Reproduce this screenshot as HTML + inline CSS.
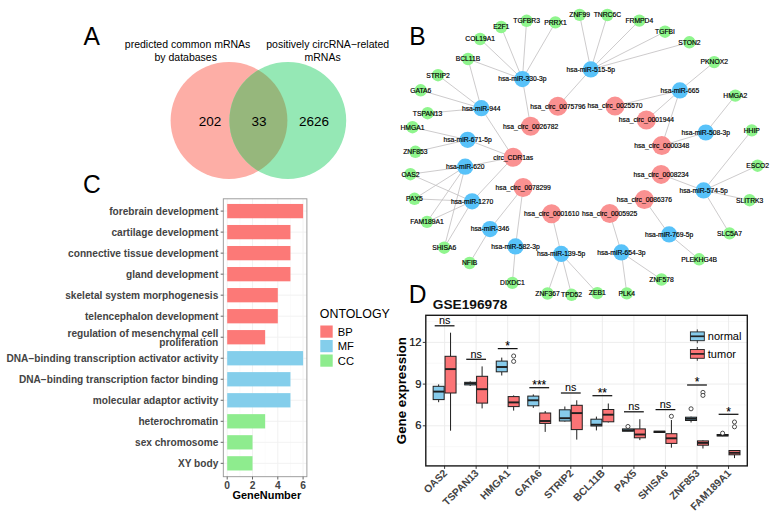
<!DOCTYPE html>
<html lang="en"><head><meta charset="utf-8"><title>Figure</title>
<style>html,body{margin:0;padding:0;background:#fff}body{width:773px;height:523px;overflow:hidden}svg{display:block}text{font-family:"Liberation Sans", Arial, sans-serif}</style>
</head><body>
<svg width="773" height="523" viewBox="0 0 773 523">
<rect width="773" height="523" fill="#fff"/>
<text transform="translate(83.6,45.3) scale(0.965,1)" font-size="25.5" fill="#000">A</text>
<text transform="translate(409.2,45.3) scale(0.965,1)" font-size="25.5" fill="#000">B</text>
<text transform="translate(82.9,192.5) scale(0.965,1)" font-size="25.5" fill="#000">C</text>
<text transform="translate(408.8,303.2) scale(0.965,1)" font-size="25.5" fill="#000">D</text>
<g id="venn">
<circle cx="229" cy="120.5" r="58.4" fill="#FDAEA6"/>
<circle cx="287.8" cy="120.5" r="58.4" fill="#95E8B5"/>
<clipPath id="cl"><circle cx="229" cy="120.5" r="58.4"/></clipPath>
<circle cx="287.8" cy="120.5" r="58.4" fill="#96B77C" clip-path="url(#cl)"/>
<g font-size="10.5" text-anchor="middle" fill="#000">
<text x="187.6" y="48.2">predicted common mRNAs</text>
<text x="185.7" y="60.7">by databases</text>
<text x="327.7" y="48.2">positively circRNA−related</text>
<text x="322.6" y="60.7">mRNAs</text>
</g>
<g font-size="13.5" text-anchor="middle" fill="#000">
<text x="210" y="125.5">202</text><text x="259" y="125.5">33</text><text x="314" y="125.5">2626</text>
</g></g>
<g id="go">
<rect x="223.3" y="198.8" width="83.59999999999997" height="277.9" fill="#fff"/>
<line x1="239.85" x2="239.85" y1="198.8" y2="476.7" stroke="#F6F6F6" stroke-width="0.5"/>
<line x1="265.15" x2="265.15" y1="198.8" y2="476.7" stroke="#F6F6F6" stroke-width="0.5"/>
<line x1="290.45" x2="290.45" y1="198.8" y2="476.7" stroke="#F6F6F6" stroke-width="0.5"/>
<line x1="227.20" x2="227.20" y1="198.8" y2="476.7" stroke="#F0F0F0" stroke-width="0.9"/>
<line x1="252.50" x2="252.50" y1="198.8" y2="476.7" stroke="#F0F0F0" stroke-width="0.9"/>
<line x1="277.80" x2="277.80" y1="198.8" y2="476.7" stroke="#F0F0F0" stroke-width="0.9"/>
<line x1="303.10" x2="303.10" y1="198.8" y2="476.7" stroke="#F0F0F0" stroke-width="0.9"/>
<line x1="223.3" x2="306.9" y1="211.10" y2="211.10" stroke="#F0F0F0" stroke-width="0.9"/>
<line x1="223.3" x2="306.9" y1="232.12" y2="232.12" stroke="#F0F0F0" stroke-width="0.9"/>
<line x1="223.3" x2="306.9" y1="253.14" y2="253.14" stroke="#F0F0F0" stroke-width="0.9"/>
<line x1="223.3" x2="306.9" y1="274.16" y2="274.16" stroke="#F0F0F0" stroke-width="0.9"/>
<line x1="223.3" x2="306.9" y1="295.18" y2="295.18" stroke="#F0F0F0" stroke-width="0.9"/>
<line x1="223.3" x2="306.9" y1="316.20" y2="316.20" stroke="#F0F0F0" stroke-width="0.9"/>
<line x1="223.3" x2="306.9" y1="337.22" y2="337.22" stroke="#F0F0F0" stroke-width="0.9"/>
<line x1="223.3" x2="306.9" y1="358.24" y2="358.24" stroke="#F0F0F0" stroke-width="0.9"/>
<line x1="223.3" x2="306.9" y1="379.26" y2="379.26" stroke="#F0F0F0" stroke-width="0.9"/>
<line x1="223.3" x2="306.9" y1="400.28" y2="400.28" stroke="#F0F0F0" stroke-width="0.9"/>
<line x1="223.3" x2="306.9" y1="421.30" y2="421.30" stroke="#F0F0F0" stroke-width="0.9"/>
<line x1="223.3" x2="306.9" y1="442.32" y2="442.32" stroke="#F0F0F0" stroke-width="0.9"/>
<line x1="223.3" x2="306.9" y1="463.34" y2="463.34" stroke="#F0F0F0" stroke-width="0.9"/>
<rect x="227.2" y="203.95" width="75.90" height="14.3" fill="#FC7977"/>
<rect x="227.2" y="224.97" width="63.25" height="14.3" fill="#FC7977"/>
<rect x="227.2" y="245.99" width="63.25" height="14.3" fill="#FC7977"/>
<rect x="227.2" y="267.01" width="63.25" height="14.3" fill="#FC7977"/>
<rect x="227.2" y="288.03" width="50.60" height="14.3" fill="#FC7977"/>
<rect x="227.2" y="309.05" width="50.60" height="14.3" fill="#FC7977"/>
<rect x="227.2" y="330.07" width="37.95" height="14.3" fill="#FC7977"/>
<rect x="227.2" y="351.09" width="75.90" height="14.3" fill="#84CEEB"/>
<rect x="227.2" y="372.11" width="63.25" height="14.3" fill="#84CEEB"/>
<rect x="227.2" y="393.13" width="63.25" height="14.3" fill="#84CEEB"/>
<rect x="227.2" y="414.15" width="37.95" height="14.3" fill="#8EEC8E"/>
<rect x="227.2" y="435.17" width="25.30" height="14.3" fill="#8EEC8E"/>
<rect x="227.2" y="456.19" width="25.30" height="14.3" fill="#8EEC8E"/>
<rect x="223.3" y="198.8" width="83.59999999999997" height="277.9" fill="none" stroke="#949494" stroke-width="0.9"/>
<g font-size="10.15" font-weight="bold" fill="#444" text-anchor="end">
<line x1="220.70000000000002" x2="223.3" y1="211.10" y2="211.10" stroke="#555" stroke-width="0.9"/>
<text x="218.3" y="214.60">forebrain development</text>
<line x1="220.70000000000002" x2="223.3" y1="232.12" y2="232.12" stroke="#555" stroke-width="0.9"/>
<text x="218.3" y="235.62">cartilage development</text>
<line x1="220.70000000000002" x2="223.3" y1="253.14" y2="253.14" stroke="#555" stroke-width="0.9"/>
<text x="218.3" y="256.64">connective tissue development</text>
<line x1="220.70000000000002" x2="223.3" y1="274.16" y2="274.16" stroke="#555" stroke-width="0.9"/>
<text x="218.3" y="277.66">gland development</text>
<line x1="220.70000000000002" x2="223.3" y1="295.18" y2="295.18" stroke="#555" stroke-width="0.9"/>
<text x="218.3" y="298.68">skeletal system morphogenesis</text>
<line x1="220.70000000000002" x2="223.3" y1="316.20" y2="316.20" stroke="#555" stroke-width="0.9"/>
<text x="218.3" y="319.70">telencephalon development</text>
<line x1="220.70000000000002" x2="223.3" y1="337.22" y2="337.22" stroke="#555" stroke-width="0.9"/>
<text x="218.3" y="336.72">regulation of mesenchymal cell</text>
<text x="218.3" y="346.12">proliferation</text>
<line x1="220.70000000000002" x2="223.3" y1="358.24" y2="358.24" stroke="#555" stroke-width="0.9"/>
<text x="218.3" y="361.74">DNA−binding transcription activator activity</text>
<line x1="220.70000000000002" x2="223.3" y1="379.26" y2="379.26" stroke="#555" stroke-width="0.9"/>
<text x="218.3" y="382.76">DNA−binding transcription factor binding</text>
<line x1="220.70000000000002" x2="223.3" y1="400.28" y2="400.28" stroke="#555" stroke-width="0.9"/>
<text x="218.3" y="403.78">molecular adaptor activity</text>
<line x1="220.70000000000002" x2="223.3" y1="421.30" y2="421.30" stroke="#555" stroke-width="0.9"/>
<text x="218.3" y="424.80">heterochromatin</text>
<line x1="220.70000000000002" x2="223.3" y1="442.32" y2="442.32" stroke="#555" stroke-width="0.9"/>
<text x="218.3" y="445.82">sex chromosome</text>
<line x1="220.70000000000002" x2="223.3" y1="463.34" y2="463.34" stroke="#555" stroke-width="0.9"/>
<text x="218.3" y="466.84">XY body</text>
</g>
<g font-size="10.3" font-weight="bold" fill="#444" text-anchor="middle">
<line x1="227.20" x2="227.20" y1="476.7" y2="479.5" stroke="#555" stroke-width="0.9"/>
<text x="227.20" y="488.6">0</text>
<line x1="252.50" x2="252.50" y1="476.7" y2="479.5" stroke="#555" stroke-width="0.9"/>
<text x="252.50" y="488.6">2</text>
<line x1="277.80" x2="277.80" y1="476.7" y2="479.5" stroke="#555" stroke-width="0.9"/>
<text x="277.80" y="488.6">4</text>
<line x1="303.10" x2="303.10" y1="476.7" y2="479.5" stroke="#555" stroke-width="0.9"/>
<text x="303.10" y="488.6">6</text>
</g>
<text x="266.8" y="498.8" font-size="10.95" font-weight="bold" fill="#000" text-anchor="middle">GeneNumber</text>
<text x="319.8" y="317.9" font-size="12.4" fill="#000">ONTOLOGY</text>
<rect x="320.3" y="325.50" width="12.4" height="12.2" fill="#FC7977"/>
<text x="337.8" y="335.60" font-size="11.2" fill="#000">BP</text>
<rect x="320.3" y="340.00" width="12.4" height="12.2" fill="#84CEEB"/>
<text x="337.8" y="350.10" font-size="11.2" fill="#000">MF</text>
<rect x="320.3" y="354.50" width="12.4" height="12.2" fill="#8EEC8E"/>
<text x="337.8" y="364.60" font-size="11.2" fill="#000">CC</text>
</g>
<g id="net">
<g stroke="#C4C2C3" stroke-width="0.85">
<line x1="522.4" y1="79.1" x2="501.2" y2="27.0"/>
<line x1="522.4" y1="79.1" x2="526.6" y2="20.8"/>
<line x1="522.4" y1="79.1" x2="555.4" y2="22.4"/>
<line x1="522.4" y1="79.1" x2="480.1" y2="39"/>
<line x1="522.4" y1="79.1" x2="468.0" y2="59.0"/>
<line x1="522.4" y1="79.1" x2="530.6" y2="126.2"/>
<line x1="481.3" y1="108.2" x2="468.0" y2="59.0"/>
<line x1="481.3" y1="108.2" x2="438" y2="75.2"/>
<line x1="481.3" y1="108.2" x2="420.7" y2="90.3"/>
<line x1="481.3" y1="108.2" x2="427.6" y2="113.2"/>
<line x1="481.3" y1="108.2" x2="513.2" y2="157.3"/>
<line x1="590.8" y1="69.4" x2="579.6" y2="14.9"/>
<line x1="590.8" y1="69.4" x2="607.4" y2="15.0"/>
<line x1="590.8" y1="69.4" x2="639.3" y2="20.6"/>
<line x1="590.8" y1="69.4" x2="665" y2="31.7"/>
<line x1="590.8" y1="69.4" x2="689.4" y2="42.3"/>
<line x1="590.8" y1="69.4" x2="557.9" y2="106.2"/>
<line x1="679.9" y1="90.4" x2="714.2" y2="62.1"/>
<line x1="679.9" y1="90.4" x2="615" y2="106.1"/>
<line x1="679.9" y1="90.4" x2="646.4" y2="120.0"/>
<line x1="679.9" y1="90.4" x2="661.8" y2="145.6"/>
<line x1="705.8" y1="132.5" x2="735.3" y2="95.6"/>
<line x1="705.8" y1="132.5" x2="661.8" y2="145.6"/>
<line x1="467.6" y1="139.8" x2="412.5" y2="127.2"/>
<line x1="467.6" y1="139.8" x2="415.4" y2="151.8"/>
<line x1="467.6" y1="139.8" x2="513.2" y2="157.3"/>
<line x1="465.2" y1="166.7" x2="410.4" y2="174.2"/>
<line x1="465.2" y1="166.7" x2="414.5" y2="198.8"/>
<line x1="465.2" y1="166.7" x2="427.0" y2="221.9"/>
<line x1="465.2" y1="166.7" x2="444.2" y2="247.7"/>
<line x1="465.2" y1="166.7" x2="513.2" y2="157.3"/>
<line x1="472.1" y1="201.3" x2="410.4" y2="174.2"/>
<line x1="472.1" y1="201.3" x2="414.5" y2="198.8"/>
<line x1="472.1" y1="201.3" x2="427.0" y2="221.9"/>
<line x1="472.1" y1="201.3" x2="444.2" y2="247.7"/>
<line x1="472.1" y1="201.3" x2="513.2" y2="157.3"/>
<line x1="490" y1="229.1" x2="469.6" y2="263.0"/>
<line x1="490" y1="229.1" x2="523.1" y2="187.5"/>
<line x1="515.5" y1="246.4" x2="512.4" y2="282.9"/>
<line x1="515.5" y1="246.4" x2="523.1" y2="187.5"/>
<line x1="561.2" y1="253.9" x2="547.5" y2="293.5"/>
<line x1="561.2" y1="253.9" x2="571.6" y2="294.8"/>
<line x1="561.2" y1="253.9" x2="597.3" y2="293.1"/>
<line x1="561.2" y1="253.9" x2="551.6" y2="213.7"/>
<line x1="621.4" y1="252.4" x2="626.8" y2="293.4"/>
<line x1="621.4" y1="252.4" x2="661.5" y2="279.5"/>
<line x1="621.4" y1="252.4" x2="609.7" y2="213.5"/>
<line x1="669.1" y1="234.4" x2="699.1" y2="259.3"/>
<line x1="669.1" y1="234.4" x2="644.4" y2="199.6"/>
<line x1="703.6" y1="190.4" x2="751.8" y2="130.4"/>
<line x1="703.6" y1="190.4" x2="757.6" y2="165.7"/>
<line x1="703.6" y1="190.4" x2="749.6" y2="200.2"/>
<line x1="703.6" y1="190.4" x2="729.5" y2="233.4"/>
<line x1="703.6" y1="190.4" x2="661.1" y2="174.4"/>
</g>
<circle cx="501.2" cy="27.0" r="6.2" fill="#8FF58D"/>
<circle cx="526.6" cy="20.8" r="6.2" fill="#8FF58D"/>
<circle cx="555.4" cy="22.4" r="6.2" fill="#8FF58D"/>
<circle cx="579.6" cy="14.9" r="6.2" fill="#8FF58D"/>
<circle cx="480.1" cy="39" r="6.2" fill="#8FF58D"/>
<circle cx="468.0" cy="59.0" r="6.2" fill="#8FF58D"/>
<circle cx="438" cy="75.2" r="6.2" fill="#8FF58D"/>
<circle cx="420.7" cy="90.3" r="6.2" fill="#8FF58D"/>
<circle cx="427.6" cy="113.2" r="6.2" fill="#8FF58D"/>
<circle cx="412.5" cy="127.2" r="6.2" fill="#8FF58D"/>
<circle cx="415.4" cy="151.8" r="6.2" fill="#8FF58D"/>
<circle cx="410.4" cy="174.2" r="6.2" fill="#8FF58D"/>
<circle cx="414.5" cy="198.8" r="6.2" fill="#8FF58D"/>
<circle cx="427.0" cy="221.9" r="6.2" fill="#8FF58D"/>
<circle cx="444.2" cy="247.7" r="6.2" fill="#8FF58D"/>
<circle cx="469.6" cy="263.0" r="6.2" fill="#8FF58D"/>
<circle cx="512.4" cy="282.9" r="6.2" fill="#8FF58D"/>
<circle cx="547.5" cy="293.5" r="6.2" fill="#8FF58D"/>
<circle cx="571.6" cy="294.8" r="6.2" fill="#8FF58D"/>
<circle cx="597.3" cy="293.1" r="6.2" fill="#8FF58D"/>
<circle cx="626.8" cy="293.4" r="6.2" fill="#8FF58D"/>
<circle cx="661.5" cy="279.5" r="6.2" fill="#8FF58D"/>
<circle cx="699.1" cy="259.3" r="6.2" fill="#8FF58D"/>
<circle cx="729.5" cy="233.4" r="6.2" fill="#8FF58D"/>
<circle cx="749.6" cy="200.2" r="6.2" fill="#8FF58D"/>
<circle cx="757.6" cy="165.7" r="6.2" fill="#8FF58D"/>
<circle cx="751.8" cy="130.4" r="6.2" fill="#8FF58D"/>
<circle cx="735.3" cy="95.6" r="6.2" fill="#8FF58D"/>
<circle cx="714.2" cy="62.1" r="6.2" fill="#8FF58D"/>
<circle cx="689.4" cy="42.3" r="6.2" fill="#8FF58D"/>
<circle cx="665" cy="31.7" r="6.2" fill="#8FF58D"/>
<circle cx="639.3" cy="20.6" r="6.2" fill="#8FF58D"/>
<circle cx="607.4" cy="15.0" r="6.2" fill="#8FF58D"/>
<circle cx="522.4" cy="79.1" r="8.1" fill="#58C2F9"/>
<circle cx="481.3" cy="108.2" r="8.1" fill="#58C2F9"/>
<circle cx="590.8" cy="69.4" r="8.1" fill="#58C2F9"/>
<circle cx="679.9" cy="90.4" r="8.1" fill="#58C2F9"/>
<circle cx="705.8" cy="132.5" r="8.1" fill="#58C2F9"/>
<circle cx="467.6" cy="139.8" r="8.1" fill="#58C2F9"/>
<circle cx="465.2" cy="166.7" r="8.1" fill="#58C2F9"/>
<circle cx="472.1" cy="201.3" r="8.1" fill="#58C2F9"/>
<circle cx="490" cy="229.1" r="8.1" fill="#58C2F9"/>
<circle cx="515.5" cy="246.4" r="8.1" fill="#58C2F9"/>
<circle cx="561.2" cy="253.9" r="8.1" fill="#58C2F9"/>
<circle cx="621.4" cy="252.4" r="8.1" fill="#58C2F9"/>
<circle cx="669.1" cy="234.4" r="8.1" fill="#58C2F9"/>
<circle cx="703.6" cy="190.4" r="8.1" fill="#58C2F9"/>
<circle cx="557.9" cy="106.2" r="9.5" fill="#FA9191"/>
<circle cx="615" cy="106.1" r="9.5" fill="#FA9191"/>
<circle cx="530.6" cy="126.2" r="9.5" fill="#FA9191"/>
<circle cx="646.4" cy="120.0" r="9.5" fill="#FA9191"/>
<circle cx="661.8" cy="145.6" r="9.5" fill="#FA9191"/>
<circle cx="513.2" cy="157.3" r="9.5" fill="#FA9191"/>
<circle cx="661.1" cy="174.4" r="9.5" fill="#FA9191"/>
<circle cx="523.1" cy="187.5" r="9.5" fill="#FA9191"/>
<circle cx="644.4" cy="199.6" r="9.5" fill="#FA9191"/>
<circle cx="551.6" cy="213.7" r="9.5" fill="#FA9191"/>
<circle cx="609.7" cy="213.5" r="9.5" fill="#FA9191"/>
<g font-size="6.75" text-anchor="middle" fill="#000" stroke="#000" stroke-width="0.18">
<text x="501.2" y="29.3">E2F1</text>
<text x="526.6" y="23.1">TGFBR3</text>
<text x="555.4" y="24.7">PRRX1</text>
<text x="579.6" y="17.2">ZNF99</text>
<text x="480.1" y="41.3">COL19A1</text>
<text x="468.0" y="61.3">BCL11B</text>
<text x="438" y="77.5">STRIP2</text>
<text x="420.7" y="92.6">GATA6</text>
<text x="427.6" y="115.5">TSPAN13</text>
<text x="412.5" y="129.5">HMGA1</text>
<text x="415.4" y="154.1">ZNF853</text>
<text x="410.4" y="176.5">OAS2</text>
<text x="414.5" y="201.1">PAX5</text>
<text x="427.0" y="224.2">FAM189A1</text>
<text x="444.2" y="250.0">SHISA6</text>
<text x="469.6" y="265.3">NFIB</text>
<text x="512.4" y="285.2">DIXDC1</text>
<text x="547.5" y="295.8">ZNF367</text>
<text x="571.6" y="297.1">TPD52</text>
<text x="597.3" y="295.4">ZEB1</text>
<text x="626.8" y="295.7">PLK4</text>
<text x="661.5" y="281.8">ZNF578</text>
<text x="699.1" y="261.6">PLEKHG4B</text>
<text x="729.5" y="235.7">SLC5A7</text>
<text x="749.6" y="202.5">SLITRK3</text>
<text x="757.6" y="168.0">ESCO2</text>
<text x="751.8" y="132.7">HHIP</text>
<text x="735.3" y="97.9">HMGA2</text>
<text x="714.2" y="64.4">PKNOX2</text>
<text x="689.4" y="44.6">STON2</text>
<text x="665" y="34.0">TGFBI</text>
<text x="639.3" y="22.9">FRMPD4</text>
<text x="607.4" y="17.3">TNRC6C</text>
<text x="522.4" y="81.4">hsa-miR-330-3p</text>
<text x="481.3" y="110.5">hsa-miR-944</text>
<text x="590.8" y="71.7">hsa-miR-515-5p</text>
<text x="679.9" y="92.7">hsa-miR-665</text>
<text x="705.8" y="134.8">hsa-miR-508-3p</text>
<text x="467.6" y="142.1">hsa-miR-671-5p</text>
<text x="465.2" y="169.0">hsa-miR-620</text>
<text x="472.1" y="203.6">hsa-miR-1270</text>
<text x="490" y="231.4">hsa-miR-346</text>
<text x="515.5" y="248.7">hsa-miR-582-3p</text>
<text x="561.2" y="256.2">hsa-miR-139-5p</text>
<text x="621.4" y="254.7">hsa-miR-654-3p</text>
<text x="669.1" y="236.7">hsa-miR-769-5p</text>
<text x="703.6" y="192.7">hsa-miR-574-5p</text>
<text x="557.9" y="108.5">hsa_circ_0075796</text>
<text x="615" y="108.4">hsa_circ_0025570</text>
<text x="530.6" y="128.5">hsa_circ_0026782</text>
<text x="646.4" y="122.3">hsa_circ_0001944</text>
<text x="661.8" y="147.9">hsa_circ_0000348</text>
<text x="513.2" y="159.6">circ_CDR1as</text>
<text x="661.1" y="176.7">hsa_circ_0008234</text>
<text x="523.1" y="189.8">hsa_circ_0078299</text>
<text x="644.4" y="201.9">hsa_circ_0086376</text>
<text x="551.6" y="216.0">hsa_circ_0001610</text>
<text x="609.7" y="215.8">hsa_circ_0005925</text>
</g></g>
<g id="box">
<rect x="425.8" y="315.3" width="321.49999999999994" height="150.59999999999997" fill="#fff"/>
<line x1="425.8" x2="747.3" y1="446.65" y2="446.65" stroke="#F4F4F4" stroke-width="0.6"/>
<line x1="425.8" x2="747.3" y1="404.95" y2="404.95" stroke="#F4F4F4" stroke-width="0.6"/>
<line x1="425.8" x2="747.3" y1="363.25" y2="363.25" stroke="#F4F4F4" stroke-width="0.6"/>
<line x1="425.8" x2="747.3" y1="321.55" y2="321.55" stroke="#F4F4F4" stroke-width="0.6"/>
<line x1="425.8" x2="747.3" y1="425.80" y2="425.80" stroke="#EBEBEB" stroke-width="0.9"/>
<line x1="425.8" x2="747.3" y1="384.10" y2="384.10" stroke="#EBEBEB" stroke-width="0.9"/>
<line x1="425.8" x2="747.3" y1="342.40" y2="342.40" stroke="#EBEBEB" stroke-width="0.9"/>
<line x1="444.60" x2="444.60" y1="315.3" y2="465.9" stroke="#EBEBEB" stroke-width="0.9"/>
<line x1="476.15" x2="476.15" y1="315.3" y2="465.9" stroke="#EBEBEB" stroke-width="0.9"/>
<line x1="507.70" x2="507.70" y1="315.3" y2="465.9" stroke="#EBEBEB" stroke-width="0.9"/>
<line x1="539.25" x2="539.25" y1="315.3" y2="465.9" stroke="#EBEBEB" stroke-width="0.9"/>
<line x1="570.80" x2="570.80" y1="315.3" y2="465.9" stroke="#EBEBEB" stroke-width="0.9"/>
<line x1="602.35" x2="602.35" y1="315.3" y2="465.9" stroke="#EBEBEB" stroke-width="0.9"/>
<line x1="633.90" x2="633.90" y1="315.3" y2="465.9" stroke="#EBEBEB" stroke-width="0.9"/>
<line x1="665.45" x2="665.45" y1="315.3" y2="465.9" stroke="#EBEBEB" stroke-width="0.9"/>
<line x1="697.00" x2="697.00" y1="315.3" y2="465.9" stroke="#EBEBEB" stroke-width="0.9"/>
<line x1="728.55" x2="728.55" y1="315.3" y2="465.9" stroke="#EBEBEB" stroke-width="0.9"/>
<line x1="438.65" x2="438.65" y1="384.4" y2="386.3" stroke="#1E1E1E" stroke-width="1"/>
<line x1="438.65" x2="438.65" y1="399.6" y2="402.2" stroke="#1E1E1E" stroke-width="1"/>
<rect x="433.15" y="386.3" width="11.0" height="13.30" fill="#86CBEB" stroke="#1E1E1E" stroke-width="1"/>
<line x1="433.15" x2="444.15" y1="391.6" y2="391.6" stroke="#1E1E1E" stroke-width="1.9"/>
<line x1="450.55" x2="450.55" y1="332.7" y2="356.3" stroke="#1E1E1E" stroke-width="1"/>
<line x1="450.55" x2="450.55" y1="393" y2="430.7" stroke="#1E1E1E" stroke-width="1"/>
<rect x="445.05" y="356.3" width="11.0" height="36.70" fill="#FB7476" stroke="#1E1E1E" stroke-width="1"/>
<line x1="445.05" x2="456.05" y1="369.1" y2="369.1" stroke="#1E1E1E" stroke-width="1.9"/>
<line x1="434.70" x2="454.50" y1="325.8" y2="325.8" stroke="#111" stroke-width="1.25"/>
<text x="444.60" y="324.00" font-size="10.8" text-anchor="middle" fill="#000">ns</text>
<line x1="470.20" x2="470.20" y1="381.4" y2="382.3" stroke="#1E1E1E" stroke-width="1"/>
<line x1="470.20" x2="470.20" y1="384.9" y2="386" stroke="#1E1E1E" stroke-width="1"/>
<rect x="464.70" y="382.3" width="11.0" height="2.60" fill="#86CBEB" stroke="#1E1E1E" stroke-width="1"/>
<line x1="464.70" x2="475.70" y1="383.4" y2="383.4" stroke="#1E1E1E" stroke-width="1.9"/>
<line x1="482.10" x2="482.10" y1="366.4" y2="376.3" stroke="#1E1E1E" stroke-width="1"/>
<line x1="482.10" x2="482.10" y1="403.1" y2="408.4" stroke="#1E1E1E" stroke-width="1"/>
<rect x="476.60" y="376.3" width="11.0" height="26.80" fill="#FB7476" stroke="#1E1E1E" stroke-width="1"/>
<line x1="476.60" x2="487.60" y1="389.2" y2="389.2" stroke="#1E1E1E" stroke-width="1.9"/>
<line x1="466.25" x2="486.05" y1="359.3" y2="359.3" stroke="#111" stroke-width="1.25"/>
<text x="476.15" y="357.50" font-size="10.8" text-anchor="middle" fill="#000">ns</text>
<line x1="501.75" x2="501.75" y1="357.6" y2="361.1" stroke="#1E1E1E" stroke-width="1"/>
<line x1="501.75" x2="501.75" y1="371.8" y2="375.5" stroke="#1E1E1E" stroke-width="1"/>
<rect x="496.25" y="361.1" width="11.0" height="10.70" fill="#86CBEB" stroke="#1E1E1E" stroke-width="1"/>
<line x1="496.25" x2="507.25" y1="367" y2="367" stroke="#1E1E1E" stroke-width="1.9"/>
<line x1="513.65" x2="513.65" y1="395.4" y2="396.6" stroke="#1E1E1E" stroke-width="1"/>
<line x1="513.65" x2="513.65" y1="406.6" y2="410.6" stroke="#1E1E1E" stroke-width="1"/>
<rect x="508.15" y="396.6" width="11.0" height="10.00" fill="#FB7476" stroke="#1E1E1E" stroke-width="1"/>
<line x1="508.15" x2="519.15" y1="402.4" y2="402.4" stroke="#1E1E1E" stroke-width="1.9"/>
<circle cx="513.65" cy="356" r="2.05" fill="#fff" stroke="#222" stroke-width="0.8"/>
<circle cx="513.65" cy="361.4" r="2.05" fill="#fff" stroke="#222" stroke-width="0.8"/>
<line x1="497.80" x2="517.60" y1="348.6" y2="348.6" stroke="#111" stroke-width="1.25"/>
<text x="507.70" y="349.90" font-size="12" text-anchor="middle" fill="#000" stroke="#000" stroke-width="0.1">*</text>
<line x1="533.30" x2="533.30" y1="394.4" y2="396.1" stroke="#1E1E1E" stroke-width="1"/>
<line x1="533.30" x2="533.30" y1="405.8" y2="407.9" stroke="#1E1E1E" stroke-width="1"/>
<rect x="527.80" y="396.1" width="11.0" height="9.70" fill="#86CBEB" stroke="#1E1E1E" stroke-width="1"/>
<line x1="527.80" x2="538.80" y1="400.3" y2="400.3" stroke="#1E1E1E" stroke-width="1.9"/>
<line x1="545.20" x2="545.20" y1="411" y2="413" stroke="#1E1E1E" stroke-width="1"/>
<line x1="545.20" x2="545.20" y1="423.4" y2="431.9" stroke="#1E1E1E" stroke-width="1"/>
<rect x="539.70" y="413" width="11.0" height="10.40" fill="#FB7476" stroke="#1E1E1E" stroke-width="1"/>
<line x1="539.70" x2="550.70" y1="421" y2="421" stroke="#1E1E1E" stroke-width="1.9"/>
<line x1="529.35" x2="549.15" y1="387.7" y2="387.7" stroke="#111" stroke-width="1.25"/>
<text x="539.25" y="389.00" font-size="12" text-anchor="middle" fill="#000" stroke="#000" stroke-width="0.1">***</text>
<line x1="564.85" x2="564.85" y1="406.5" y2="409.8" stroke="#1E1E1E" stroke-width="1"/>
<line x1="564.85" x2="564.85" y1="421" y2="421.6" stroke="#1E1E1E" stroke-width="1"/>
<rect x="559.35" y="409.8" width="11.0" height="11.20" fill="#86CBEB" stroke="#1E1E1E" stroke-width="1"/>
<line x1="559.35" x2="570.35" y1="418.2" y2="418.2" stroke="#1E1E1E" stroke-width="1.9"/>
<line x1="576.75" x2="576.75" y1="400.3" y2="405.3" stroke="#1E1E1E" stroke-width="1"/>
<line x1="576.75" x2="576.75" y1="429.6" y2="439.6" stroke="#1E1E1E" stroke-width="1"/>
<rect x="571.25" y="405.3" width="11.0" height="24.30" fill="#FB7476" stroke="#1E1E1E" stroke-width="1"/>
<line x1="571.25" x2="582.25" y1="413.1" y2="413.1" stroke="#1E1E1E" stroke-width="1.9"/>
<line x1="560.90" x2="580.70" y1="393.0" y2="393.0" stroke="#111" stroke-width="1.25"/>
<text x="570.80" y="391.20" font-size="10.8" text-anchor="middle" fill="#000">ns</text>
<line x1="596.40" x2="596.40" y1="416.6" y2="419.2" stroke="#1E1E1E" stroke-width="1"/>
<line x1="596.40" x2="596.40" y1="426" y2="430.4" stroke="#1E1E1E" stroke-width="1"/>
<rect x="590.90" y="419.2" width="11.0" height="6.80" fill="#86CBEB" stroke="#1E1E1E" stroke-width="1"/>
<line x1="590.90" x2="601.90" y1="424.7" y2="424.7" stroke="#1E1E1E" stroke-width="1.9"/>
<line x1="608.30" x2="608.30" y1="403.5" y2="409.5" stroke="#1E1E1E" stroke-width="1"/>
<line x1="608.30" x2="608.30" y1="421.8" y2="422.5" stroke="#1E1E1E" stroke-width="1"/>
<rect x="602.80" y="409.5" width="11.0" height="12.30" fill="#FB7476" stroke="#1E1E1E" stroke-width="1"/>
<line x1="602.80" x2="613.80" y1="414.7" y2="414.7" stroke="#1E1E1E" stroke-width="1.9"/>
<line x1="592.45" x2="612.25" y1="395.7" y2="395.7" stroke="#111" stroke-width="1.25"/>
<text x="602.35" y="397.00" font-size="12" text-anchor="middle" fill="#000" stroke="#000" stroke-width="0.1">**</text>
<line x1="627.95" x2="627.95" y1="428.9" y2="428.9" stroke="#1E1E1E" stroke-width="1"/>
<line x1="627.95" x2="627.95" y1="431.2" y2="431.4" stroke="#1E1E1E" stroke-width="1"/>
<rect x="622.45" y="428.9" width="11.0" height="2.30" fill="#86CBEB" stroke="#1E1E1E" stroke-width="1"/>
<line x1="622.45" x2="633.45" y1="430.3" y2="430.3" stroke="#1E1E1E" stroke-width="1.9"/>
<circle cx="627.95" cy="426.5" r="2.05" fill="#fff" stroke="#222" stroke-width="0.8"/>
<line x1="639.85" x2="639.85" y1="419.2" y2="428.9" stroke="#1E1E1E" stroke-width="1"/>
<line x1="639.85" x2="639.85" y1="437.8" y2="440.1" stroke="#1E1E1E" stroke-width="1"/>
<rect x="634.35" y="428.9" width="11.0" height="8.90" fill="#FB7476" stroke="#1E1E1E" stroke-width="1"/>
<line x1="634.35" x2="645.35" y1="434.5" y2="434.5" stroke="#1E1E1E" stroke-width="1.9"/>
<line x1="624.00" x2="643.80" y1="411.8" y2="411.8" stroke="#111" stroke-width="1.25"/>
<text x="633.90" y="410.00" font-size="10.8" text-anchor="middle" fill="#000">ns</text>
<line x1="659.50" x2="659.50" y1="431.2" y2="431.2" stroke="#1E1E1E" stroke-width="1"/>
<line x1="659.50" x2="659.50" y1="432.5" y2="432.5" stroke="#1E1E1E" stroke-width="1"/>
<rect x="654.00" y="431.2" width="11.0" height="1.30" fill="#86CBEB" stroke="#1E1E1E" stroke-width="1"/>
<line x1="654.00" x2="665.00" y1="431.8" y2="431.8" stroke="#1E1E1E" stroke-width="1.9"/>
<line x1="671.40" x2="671.40" y1="420" y2="433.7" stroke="#1E1E1E" stroke-width="1"/>
<line x1="671.40" x2="671.40" y1="443.4" y2="447.7" stroke="#1E1E1E" stroke-width="1"/>
<rect x="665.90" y="433.7" width="11.0" height="9.70" fill="#FB7476" stroke="#1E1E1E" stroke-width="1"/>
<line x1="665.90" x2="676.90" y1="438.3" y2="438.3" stroke="#1E1E1E" stroke-width="1.9"/>
<circle cx="671.40" cy="416.3" r="2.05" fill="#fff" stroke="#222" stroke-width="0.8"/>
<line x1="655.55" x2="675.35" y1="409.6" y2="409.6" stroke="#111" stroke-width="1.25"/>
<text x="665.45" y="407.80" font-size="10.8" text-anchor="middle" fill="#000">ns</text>
<line x1="691.05" x2="691.05" y1="416.6" y2="417.2" stroke="#1E1E1E" stroke-width="1"/>
<line x1="691.05" x2="691.05" y1="420.5" y2="422.5" stroke="#1E1E1E" stroke-width="1"/>
<rect x="685.55" y="417.2" width="11.0" height="3.30" fill="#86CBEB" stroke="#1E1E1E" stroke-width="1"/>
<line x1="685.55" x2="696.55" y1="418.8" y2="418.8" stroke="#1E1E1E" stroke-width="1.9"/>
<circle cx="691.05" cy="408.8" r="2.05" fill="#fff" stroke="#222" stroke-width="0.8"/>
<line x1="702.95" x2="702.95" y1="440.3" y2="440.9" stroke="#1E1E1E" stroke-width="1"/>
<line x1="702.95" x2="702.95" y1="445.2" y2="448.5" stroke="#1E1E1E" stroke-width="1"/>
<rect x="697.45" y="440.9" width="11.0" height="4.30" fill="#FB7476" stroke="#1E1E1E" stroke-width="1"/>
<line x1="697.45" x2="708.45" y1="442.9" y2="442.9" stroke="#1E1E1E" stroke-width="1.9"/>
<circle cx="702.95" cy="392.4" r="2.05" fill="#fff" stroke="#222" stroke-width="0.8"/>
<circle cx="702.95" cy="395.4" r="2.05" fill="#fff" stroke="#222" stroke-width="0.8"/>
<line x1="687.10" x2="706.90" y1="385.0" y2="385.0" stroke="#111" stroke-width="1.25"/>
<text x="697.00" y="386.30" font-size="12" text-anchor="middle" fill="#000" stroke="#000" stroke-width="0.1">*</text>
<line x1="722.60" x2="722.60" y1="434.3" y2="434.5" stroke="#1E1E1E" stroke-width="1"/>
<line x1="722.60" x2="722.60" y1="436" y2="436.2" stroke="#1E1E1E" stroke-width="1"/>
<rect x="717.10" y="434.5" width="11.0" height="1.50" fill="#86CBEB" stroke="#1E1E1E" stroke-width="1"/>
<line x1="717.10" x2="728.10" y1="435.2" y2="435.2" stroke="#1E1E1E" stroke-width="1.9"/>
<circle cx="722.60" cy="433.2" r="2.05" fill="#fff" stroke="#222" stroke-width="0.8"/>
<line x1="734.50" x2="734.50" y1="450" y2="450.5" stroke="#1E1E1E" stroke-width="1"/>
<line x1="734.50" x2="734.50" y1="454.8" y2="458.1" stroke="#1E1E1E" stroke-width="1"/>
<rect x="729.00" y="450.5" width="11.0" height="4.30" fill="#FB7476" stroke="#1E1E1E" stroke-width="1"/>
<line x1="729.00" x2="740.00" y1="452.8" y2="452.8" stroke="#1E1E1E" stroke-width="1.9"/>
<circle cx="734.50" cy="422" r="2.05" fill="#fff" stroke="#222" stroke-width="0.8"/>
<circle cx="734.50" cy="426.8" r="2.05" fill="#fff" stroke="#222" stroke-width="0.8"/>
<line x1="718.65" x2="738.45" y1="414.3" y2="414.3" stroke="#111" stroke-width="1.25"/>
<text x="728.55" y="415.60" font-size="12" text-anchor="middle" fill="#000" stroke="#000" stroke-width="0.1">*</text>
<rect x="425.8" y="315.3" width="321.49999999999994" height="150.59999999999997" fill="none" stroke="#1A1A1A" stroke-width="1.4"/>
<line x1="422.8" x2="425.8" y1="425.80" y2="425.80" stroke="#222" stroke-width="0.9"/>
<text x="421.6" y="429.40" font-size="11.2" text-anchor="end" fill="#111" stroke="#111" stroke-width="0.2">6</text>
<line x1="422.8" x2="425.8" y1="384.10" y2="384.10" stroke="#222" stroke-width="0.9"/>
<text x="421.6" y="387.70" font-size="11.2" text-anchor="end" fill="#111" stroke="#111" stroke-width="0.2">9</text>
<line x1="422.8" x2="425.8" y1="342.40" y2="342.40" stroke="#222" stroke-width="0.9"/>
<text x="421.6" y="346.00" font-size="11.2" text-anchor="end" fill="#111" stroke="#111" stroke-width="0.2">12</text>
<line x1="444.60" x2="444.60" y1="465.9" y2="468.9" stroke="#222" stroke-width="0.9"/>
<text transform="translate(447.90,473.80) rotate(-45)" font-size="10.4" font-weight="bold" text-anchor="end" fill="#444">OAS2</text>
<line x1="476.15" x2="476.15" y1="465.9" y2="468.9" stroke="#222" stroke-width="0.9"/>
<text transform="translate(479.45,473.80) rotate(-45)" font-size="10.4" font-weight="bold" text-anchor="end" fill="#444">TSPAN13</text>
<line x1="507.70" x2="507.70" y1="465.9" y2="468.9" stroke="#222" stroke-width="0.9"/>
<text transform="translate(511.00,473.80) rotate(-45)" font-size="10.4" font-weight="bold" text-anchor="end" fill="#444">HMGA1</text>
<line x1="539.25" x2="539.25" y1="465.9" y2="468.9" stroke="#222" stroke-width="0.9"/>
<text transform="translate(542.55,473.80) rotate(-45)" font-size="10.4" font-weight="bold" text-anchor="end" fill="#444">GATA6</text>
<line x1="570.80" x2="570.80" y1="465.9" y2="468.9" stroke="#222" stroke-width="0.9"/>
<text transform="translate(574.10,473.80) rotate(-45)" font-size="10.4" font-weight="bold" text-anchor="end" fill="#444">STRIP2</text>
<line x1="602.35" x2="602.35" y1="465.9" y2="468.9" stroke="#222" stroke-width="0.9"/>
<text transform="translate(605.65,473.80) rotate(-45)" font-size="10.4" font-weight="bold" text-anchor="end" fill="#444">BCL11B</text>
<line x1="633.90" x2="633.90" y1="465.9" y2="468.9" stroke="#222" stroke-width="0.9"/>
<text transform="translate(637.20,473.80) rotate(-45)" font-size="10.4" font-weight="bold" text-anchor="end" fill="#444">PAX5</text>
<line x1="665.45" x2="665.45" y1="465.9" y2="468.9" stroke="#222" stroke-width="0.9"/>
<text transform="translate(668.75,473.80) rotate(-45)" font-size="10.4" font-weight="bold" text-anchor="end" fill="#444">SHISA6</text>
<line x1="697.00" x2="697.00" y1="465.9" y2="468.9" stroke="#222" stroke-width="0.9"/>
<text transform="translate(700.30,473.80) rotate(-45)" font-size="10.4" font-weight="bold" text-anchor="end" fill="#444">ZNF853</text>
<line x1="728.55" x2="728.55" y1="465.9" y2="468.9" stroke="#222" stroke-width="0.9"/>
<text transform="translate(731.85,473.80) rotate(-45)" font-size="10.4" font-weight="bold" text-anchor="end" fill="#444">FAM189A1</text>
<text transform="translate(405.5,390.6) rotate(-90)" font-size="13.3" font-weight="bold" text-anchor="middle" fill="#000">Gene expression</text>
<text x="432.8" y="308.7" font-size="13.7" font-weight="bold" fill="#111">GSE196978</text>
<line x1="697.3" x2="697.3" y1="329.40" y2="343.20" stroke="#222" stroke-width="0.9"/>
<rect x="690.4" y="331.90" width="13.9" height="8.8" fill="#86CBEB" stroke="#222" stroke-width="0.9"/>
<line x1="690.4" x2="704.3" y1="336.3" y2="336.3" stroke="#222" stroke-width="1.7"/>
<text x="707.8" y="340.2" font-size="11" fill="#000">normal</text>
<line x1="697.3" x2="697.3" y1="347.00" y2="360.80" stroke="#222" stroke-width="0.9"/>
<rect x="690.4" y="349.50" width="13.9" height="8.8" fill="#FB7476" stroke="#222" stroke-width="0.9"/>
<line x1="690.4" x2="704.3" y1="353.9" y2="353.9" stroke="#222" stroke-width="1.7"/>
<text x="707.8" y="357.5" font-size="11" fill="#000">tumor</text>
</g>
</svg></body></html>
